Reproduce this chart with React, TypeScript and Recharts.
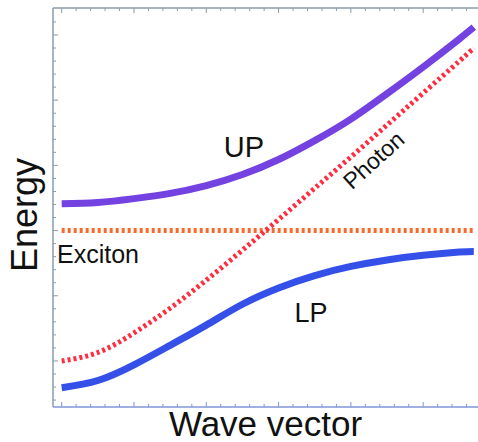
import React from 'react';
import { LineChart, Line, XAxis, YAxis, Label } from 'recharts';

// wave vector samples (major tick = 1) and energies
const K = [0, 0.5, 1, 1.5, 2, 2.5, 3, 3.5, 4, 4.5, 5, 5.5, 5.7];
const PHOTON = [0, 0.13, 0.43, 0.81, 1.24, 1.7, 2.17, 2.65, 3.13, 3.62, 4.11, 4.6, 4.8];
const UPPER = [2.41, 2.43, 2.49, 2.57, 2.69, 2.86, 3.09, 3.38, 3.71, 4.1, 4.51, 4.94, 5.12];
const LOWER = [-0.41, -0.3, -0.06, 0.24, 0.55, 0.87, 1.12, 1.31, 1.45, 1.55, 1.62, 1.67, 1.68];
const EXCITON_K = [0, 5.7];
const EXCITON = [2, 2];

const X_DOMAIN = [-0.12, 5.758];
const Y_DOMAIN = [-0.706, 5.414];
const X_TICKS = Array.from({ length: 29 }, (_, i) => +(i * 0.2).toFixed(1));
const Y_TICKS = Array.from({ length: 30 }, (_, i) => +(-0.6 + i * 0.2).toFixed(1));

const photonData = K.map((k, i) => ({ k, E: PHOTON[i] }));
const upData = K.map((k, i) => ({ k, E: UPPER[i] }));
const lpData = K.map((k, i) => ({ k, E: LOWER[i] }));
const excitonData = EXCITON_K.map((k, i) => ({ k, E: EXCITON[i] }));

const FONT = '"Liberation Sans", Arial, sans-serif';
const AXIS_GRAY = '#8b9cab';
const AXIS_BLUE = '#8196d8';

const isMajor = (v: number) => Math.abs(v - Math.round(v)) < 1e-6;

const BottomTick = (p: any) => (
  <line x1={p.x} x2={p.x} y1={p.y} y2={p.y - (isMajor(p.payload.value) ? 5 : 3)} stroke={AXIS_BLUE} strokeWidth={1} />
);
const LeftTick = (p: any) => (
  <line x1={p.x} x2={p.x + (isMajor(p.payload.value) ? 5 : 3)} y1={p.y} y2={p.y} stroke={AXIS_GRAY} strokeWidth={1} />
);

// top frame edge: drawn from the bottom axis viewBox, mirroring its ticks
const TopFrame = (props: any) => {
  const vb = props.viewBox;
  const top = 8;
  const px = (t: number) => vb.x + ((t - X_DOMAIN[0]) / (X_DOMAIN[1] - X_DOMAIN[0])) * vb.width;
  return (
    <g>
      <path d={`M${vb.x},${top}H${vb.x + vb.width}`} stroke={AXIS_GRAY} strokeWidth={1.5} fill="none" />
      {X_TICKS.map((t) => (
        <path key={t} d={`M${px(t)},${top}V${top + (isMajor(t) ? 5 : 3)}`} stroke={AXIS_GRAY} strokeWidth={1} fill="none" />
      ))}
      <text x={vb.x + vb.width / 2} y={436} textAnchor="middle" fontFamily={FONT} fontSize={35} fill="#111">
        Wave vector
      </text>
    </g>
  );
};

export default function App() {
  return (
    <div style={{ position: 'absolute', left: 0, top: 0 }}>
      <LineChart width={478} height={442} margin={{ top: 8, right: 0, left: 0, bottom: 0 }}>
        <XAxis
          type="number"
          dataKey="k"
          domain={X_DOMAIN}
          allowDataOverflow
          ticks={X_TICKS}
          interval={0}
          height={35}
          tickSize={0}
          tickMargin={0}
          tickLine={false}
          tick={BottomTick}
          axisLine={{ stroke: AXIS_BLUE, strokeWidth: 1.5 }}
        >
          <Label content={TopFrame} />
        </XAxis>
        <YAxis
          type="number"
          domain={Y_DOMAIN}
          allowDataOverflow
          ticks={Y_TICKS}
          interval={0}
          width={53}
          tickSize={0}
          tickMargin={0}
          tickLine={false}
          tick={LeftTick}
          axisLine={{ stroke: AXIS_GRAY, strokeWidth: 1.5 }}
        >
          <Label
            content={() => (
              <text
                x={36.5}
                y={215}
                transform="rotate(-90 36.5 215)"
                textAnchor="middle"
                fontFamily={FONT}
                fontSize={36}
                fill="#111"
              >
                Energy
              </text>
            )}
          />
        </YAxis>

        <Line data={excitonData} dataKey="E" stroke="#f9692e" strokeWidth={5} strokeDasharray="3 3" dot={false} isAnimationActive={false} />
        <Line data={photonData} dataKey="E" type="natural" stroke="#ff2d40" strokeWidth={5} strokeDasharray="3 3" dot={false} isAnimationActive={false} />
        <Line data={upData} dataKey="E" type="natural" stroke="#7442e0" strokeWidth={7} dot={false} isAnimationActive={false} />
        <Line data={lpData} dataKey="E" type="natural" stroke="#3550e8" strokeWidth={7} dot={false} isAnimationActive={false} />

        <text x={244} y={157} textAnchor="middle" fontFamily={FONT} fontSize={29} fill="#111">UP</text>
        <text x={311} y={322} textAnchor="middle" fontFamily={FONT} fontSize={27} fill="#111">LP</text>
        <text x={57} y={263} fontFamily={FONT} fontSize={25} fill="#111">Exciton</text>
        <text x={379} y={166} transform="rotate(-42 379 166)" textAnchor="middle" fontFamily={FONT} fontSize={23} fill="#111">Photon</text>
      </LineChart>
    </div>
  );
}
